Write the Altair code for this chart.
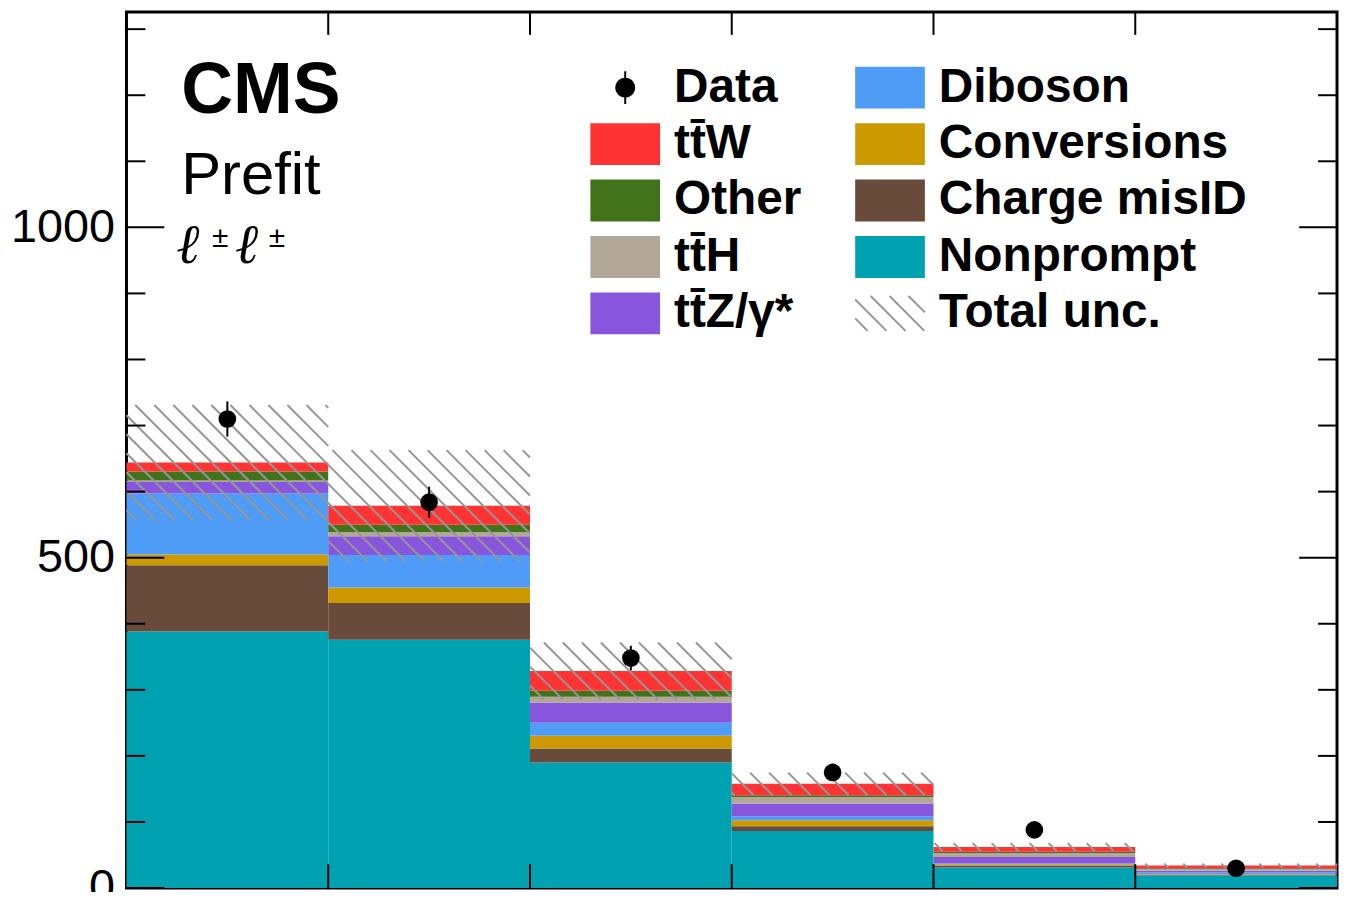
import math
import altair as alt
import pandas as pd

# ---------------- data ----------------
bin_index = [0, 1, 2, 3, 4, 5]
bin_edges_inner = [1, 2, 3, 4, 5]

proc_keys = ["Nonprompt", "Charge misID", "Conversions", "Diboson", "ttZ", "ttH", "Other", "ttW"]  # bottom -> top
nonprompt = [388.4, 375.8, 190.0, 86.4, 31.0, 19.0]
charge_misid = [100.0, 55.7, 21.0, 7.1, 3.0, 1.0]
conversions = [16.6, 23.5, 19.6, 9.0, 2.0, 1.0]
diboson = [92.0, 49.0, 19.4, 6.0, 1.0, 2.5]
ttz = [17.6, 28.5, 30.8, 19.5, 10.0, 2.5]
tth = [2.4, 6.1, 8.6, 9.6, 6.0, 2.6]
other = [13.6, 11.4, 9.1, 3.0, 2.0, 1.4]
ttw = [13.4, 28.8, 30.1, 17.1, 7.0, 4.0]
total_unc = [87.0, 84.0, 43.0, 17.0, 6.0, 3.0]
data_obs = [710.0, 584.0, 348.0, 175.0, 88.0, 30.0]
data_err = [26.6, 23.5, 18.7, 13.2, 9.4, 5.5]

proc_colors = ["#00a2b1", "#694b3c", "#cc9900", "#4e9cf6", "#8856dd", "#b3a898", "#41731b", "#ff3333"]

major_ticks = [0, 500, 1000]
minor_ticks = [100, 200, 300, 400, 600, 700, 800, 900, 1100, 1200, 1300]

TTBAR = "t" + "t\u0304"
# legend entries in reading order down the columns
legend_names = ["Data", TTBAR + "W", "Other", TTBAR + "H", TTBAR + "Z/\u03b3*",
                "Diboson", "Conversions", "Charge misID", "Nonprompt", "Total unc."]
legend_fill = ["black", "#ff3333", "#41731b", "#b3a898", "#8856dd",
               "#4e9cf6", "#cc9900", "#694b3c", "#00a2b1", "transparent"]
legend_stroke = ["black", "#ff3333", "#41731b", "#b3a898", "#8856dd",
                 "#4e9cf6", "#cc9900", "#694b3c", "#00a2b1", "#969696"]

# ---------------- geometry / style ----------------
W, H = 1216, 880
YMAX = 1326
FONT = "Liberation Sans"
HATCH = "#969696"

series = [nonprompt, charge_misid, conversions, diboson, ttz, tth, other, ttw]

# stacked rectangles
rows = []
for i in bin_index:
    cum = 0.0
    for name, vals in zip(proc_keys, series):
        rows.append(dict(proc=name, x0=i, x1=i + 1, lo=cum, hi=cum + vals[i]))
        cum += vals[i]
stack_df = pd.DataFrame(rows)
totals = [sum(s[i] for s in series) for i in bin_index]

# hatch segments for total uncertainty band (45deg "\" lines, anchored to plot)
bw = W / 6.0
sy = H / YMAX
sp, phase = 19.1, 4.0
hseg = []
for i in bin_index:
    lo_v, hi_v = totals[i] - total_unc[i], totals[i] + total_unc[i]
    left, right = i * bw, (i + 1) * bw
    top, bottom = (YMAX - hi_v) * sy, (YMAX - lo_v) * sy
    kmin = math.floor((top - right - phase) / sp) - 1
    kmax = math.ceil((bottom - left - phase) / sp) + 1
    for k in range(kmin, kmax + 1):
        c = k * sp + phase
        a = max(left, top - c)
        b = min(right, bottom - c)
        if b - a > 0.3:
            hseg.append(dict(x=a / bw, x2=b / bw, y=YMAX - (a + c) / sy, y2=YMAX - (b + c) / sy))
hatch_df = pd.DataFrame(hseg)

data_df = pd.DataFrame(dict(xc=[i + 0.5 for i in bin_index], v=data_obs,
                            lo=[d - e for d, e in zip(data_obs, data_err)],
                            hi=[d + e for d, e in zip(data_obs, data_err)]))

# legend symbol paths (path units are scaled by sqrt(symbolSize)/2 = 20 px)
SYM_SIZE = 1600
U = 20.0
rect_path = f"M{-34/U:.3f},{-20/U:.3f}L{34/U:.3f},{-20/U:.3f}L{34/U:.3f},{20/U:.3f}L{-34/U:.3f},{20/U:.3f}Z"
r = 9.0 / U
circ = "M" + "L".join(f"{r*math.cos(2*math.pi*j/24):.3f},{r*math.sin(2*math.pi*j/24):.3f}" for j in range(24)) + "Z"
data_path = f"M0,{-16.5/U:.3f}L0,{16.5/U:.3f}" + circ
hp = []
hx, hy, hs = 35.0 / U, 17.5 / U, 19.0 / U
for k in range(-8, 8):
    c = k * hs + 0.1
    a = max(-hx, -hy - c)
    b = min(hx, hy - c)
    if b - a > 0.05:
        hp.append(f"M{a:.3f},{a + c:.3f}L{b:.3f},{b + c:.3f}")
hatch_path = "".join(hp)
legend_shapes = [data_path, rect_path, rect_path, rect_path, rect_path,
                 rect_path, rect_path, rect_path, rect_path, hatch_path]

xs = alt.Scale(domain=[0, 6], nice=False, zero=False)
ys = alt.Scale(domain=[0, YMAX], nice=False, zero=False)

stack = alt.Chart(stack_df).mark_rect(strokeWidth=0).encode(
    x=alt.X("x0:Q", scale=xs, axis=None),
    x2="x1",
    y=alt.Y("lo:Q", scale=ys, axis=alt.Axis(values=major_ticks, ticks=False, domain=False, grid=False,
                                             labelFontSize=47, labelFont=FONT, labelColor="black",
                                             labelPadding=12, title=None, format="d")),
    y2="hi",
    color=alt.Color("proc:N", scale=alt.Scale(domain=proc_keys, range=proc_colors), legend=None),
)

hatch = alt.Chart(hatch_df).mark_rule(color=HATCH, strokeWidth=2).encode(
    x=alt.X("x:Q", scale=xs), x2="x2", y=alt.Y("y:Q", scale=ys), y2="y2")

errs = alt.Chart(data_df).mark_rule(color="black", strokeWidth=2).encode(
    x=alt.X("xc:Q", scale=xs), y=alt.Y("lo:Q", scale=ys), y2="hi")
pts = alt.Chart(data_df).mark_circle(color="black", size=314, opacity=1).encode(
    x=alt.X("xc:Q", scale=xs), y=alt.Y("v:Q", scale=ys))

leg = alt.Legend(orient="none", legendX=477, legendY=52, columns=2, title=None,
                 symbolSize=SYM_SIZE, symbolStrokeWidth=2, symbolOpacity=1,
                 labelFont=FONT, labelFontWeight="bold", labelFontSize=48, labelColor="black",
                 labelOffset=25, labelLimit=1000, rowPadding=8.7, columnPadding=49, padding=0)
leg_df = pd.DataFrame(dict(entry=legend_names, x=[0.5] * 10, y=[-500.0] * 10))
legend_layer = alt.Chart(leg_df).mark_point(clip=True, filled=True, size=10, opacity=1).encode(
    x=alt.X("x:Q", scale=xs), y=alt.Y("y:Q", scale=ys),
    fill=alt.Fill("entry:N", scale=alt.Scale(domain=legend_names, range=legend_fill), legend=leg),
    stroke=alt.Stroke("entry:N", scale=alt.Scale(domain=legend_names, range=legend_stroke), legend=leg),
    shape=alt.Shape("entry:N", scale=alt.Scale(domain=legend_names, range=legend_shapes), legend=leg),
)

maj_df = pd.DataFrame(dict(v=major_ticks))
min_df = pd.DataFrame(dict(v=minor_ticks))
edge_df = pd.DataFrame(dict(e=bin_edges_inner))
tk = dict(color="black", strokeWidth=2)
t_left_major = alt.Chart(maj_df).mark_rule(**tk).encode(y=alt.Y("v:Q", scale=ys), x=alt.value(0), x2=alt.value(38))
t_left_minor = alt.Chart(min_df).mark_rule(**tk).encode(y=alt.Y("v:Q", scale=ys), x=alt.value(0), x2=alt.value(19))
t_right_major = alt.Chart(maj_df).mark_rule(**tk).encode(y=alt.Y("v:Q", scale=ys), x=alt.value(W - 38), x2=alt.value(W))
t_right_minor = alt.Chart(min_df).mark_rule(**tk).encode(y=alt.Y("v:Q", scale=ys), x=alt.value(W - 19), x2=alt.value(W))
t_top = alt.Chart(edge_df).mark_rule(**tk).encode(x=alt.X("e:Q", scale=xs), y=alt.value(0), y2=alt.value(23))
t_bot = alt.Chart(edge_df).mark_rule(**tk).encode(x=alt.X("e:Q", scale=xs), y=alt.value(H - 24), y2=alt.value(H))


def label(text, x, y, size, weight="normal", font=FONT, style="normal"):
    return alt.Chart(alt.Data(values=[{"t": text}])).mark_text(
        align="left", baseline="alphabetic", fontSize=size, fontWeight=weight, font=font,
        fontStyle=style, color="black").encode(text="t:N", x=alt.value(x), y=alt.value(y))


cms = label("CMS", 55, 101, 72, weight="bold")
prefit = label("Prefit", 55, 183, 60)
ell1 = label("\u2113", 50, 252, 56, font="DejaVu Serif", style="italic")
pm1 = label("\u00b1", 86, 236, 30)
ell2 = label("\u2113", 109, 252, 56, font="DejaVu Serif", style="italic")
pm2 = label("\u00b1", 143, 236, 30)

chart = alt.layer(
    stack, hatch, errs, pts, legend_layer,
    t_left_major, t_left_minor, t_right_major, t_right_minor, t_top, t_bot,
    cms, prefit, ell1, pm1, ell2, pm2,
).properties(
    width=W, height=H,
    padding={"left": 119, "top": 2, "right": 2, "bottom": 2},
    autosize=alt.AutoSizeParams(type="none"),
).configure(font=FONT).configure_view(stroke="black", strokeWidth=3)

chart.save("out.html", embed_options={"renderer": "svg", "actions": False})
